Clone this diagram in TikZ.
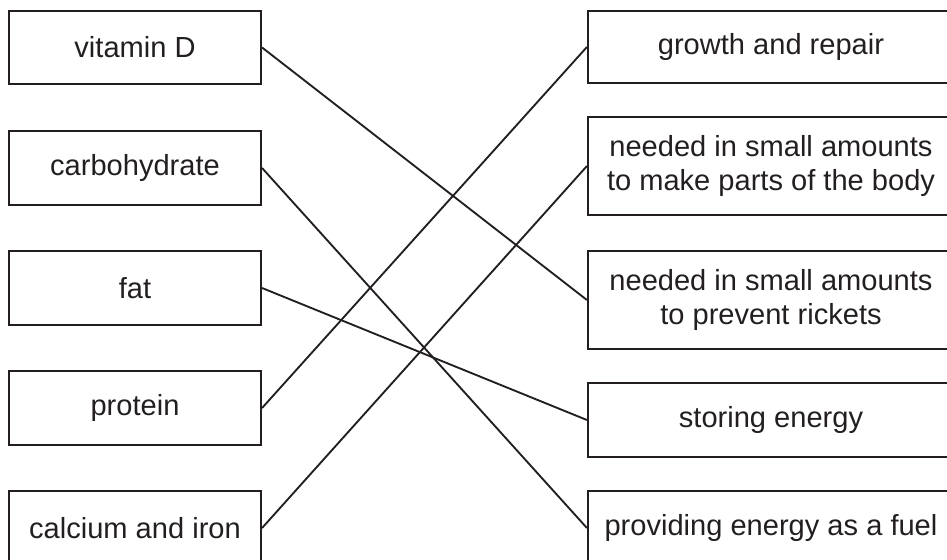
\documentclass[tikz,border=0pt]{standalone}
\usepackage{fontspec}
\setmainfont{Liberation Sans}
\usepackage{xcolor}
\usepackage{tikz}
\usetikzlibrary{positioning}

\definecolor{ink}{HTML}{231F20}

\begin{document}
\begin{tikzpicture}[x=0.75pt, y=-0.75pt,
    food/.style={draw=ink, line width=1.6pt, inner sep=0pt, minimum width=189pt, font=\fontsize{21.8}{26}\selectfont, text=ink},
    job/.style={draw=ink, line width=1.6pt, inner sep=0pt, minimum width=274.5pt, align=center, font=\fontsize{21.8}{26}\selectfont, text=ink},
    match/.style={draw=ink, line width=1.4pt}]
        \useasboundingbox (0,0) rectangle (947,560);
        \clip (0,0) rectangle (947,560);

        % left column
        \node[food, minimum height=54.75pt] (vitd) at (135,47.5) {vitamin D};
        \node[food, minimum height=55.5pt] (carb) at (135,168) {carbohydrate};
        \node[food, minimum height=55.5pt] (fat) at (135,288) {fat};
        \node[food, minimum height=55.5pt] (prot) at (135,408) {protein};
        \node[food, minimum height=55.5pt] (calc) at (135,528) {calcium and iron};

        % right column
        \node[job, minimum height=54pt] (growth) at (771,47) {growth and repair};
        \node[job, minimum height=73.5pt] (body) at (771,166) {needed in small amounts\\to make parts of the body};
        \node[job, minimum height=73.5pt] (rickets) at (771,300) {needed in small amounts\\to prevent rickets};
        \node[job, minimum height=55.5pt] (store) at (771,420) {storing energy};
        \node[job, minimum height=55.5pt] (fuel) at (771,528) {providing energy as a fuel};

        % matching lines
        \draw[match] (vitd.east) -- (rickets.west);
        \draw[match] (carb.east) -- (fuel.west);
        \draw[match] (fat.east) -- (store.west);
        \draw[match] (prot.east) -- (growth.west);
        \draw[match] (calc.east) -- (body.west);
\end{tikzpicture}
\end{document}
